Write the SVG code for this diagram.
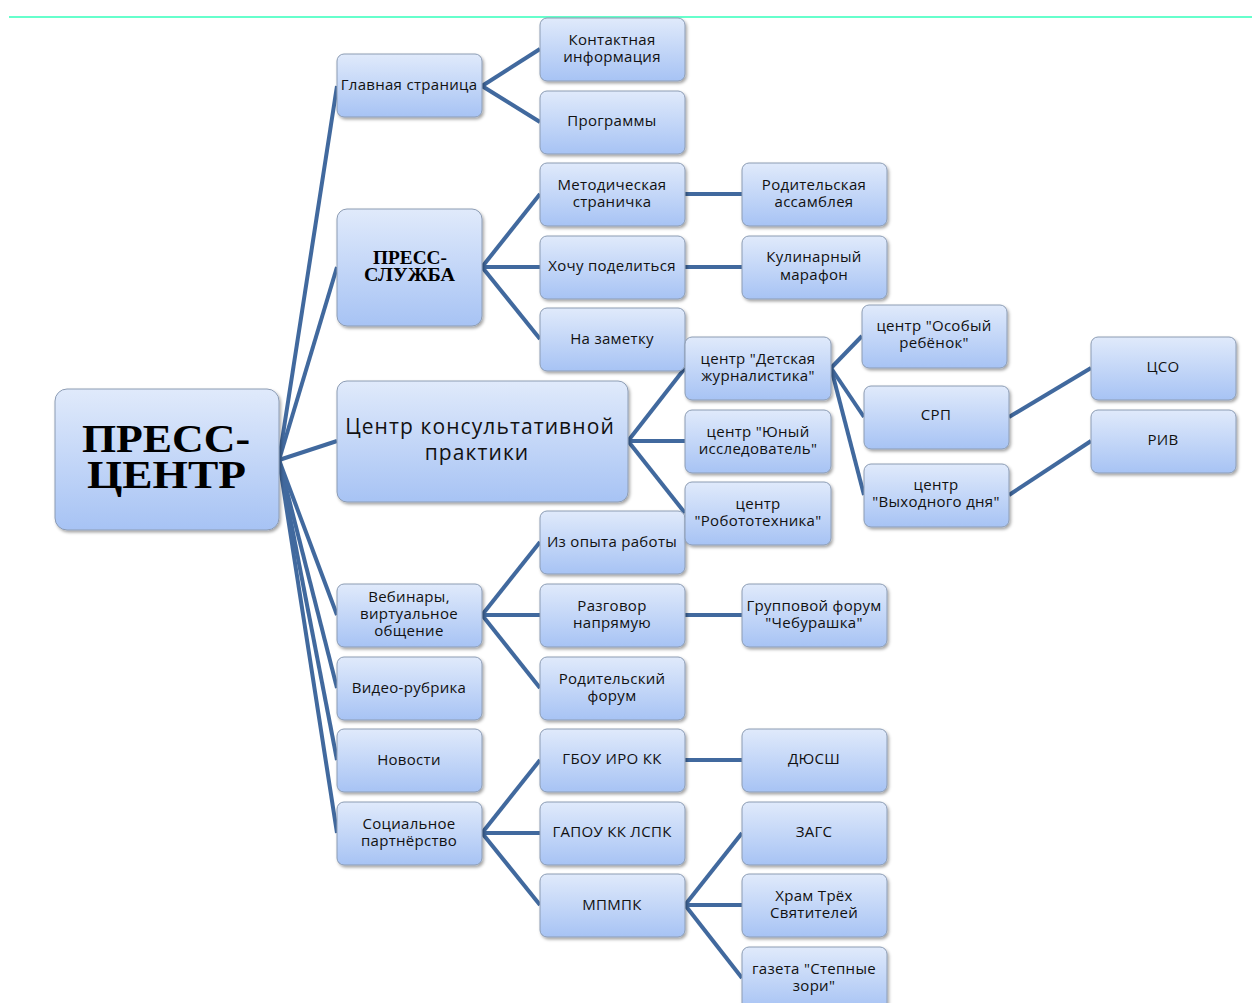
<svg xmlns="http://www.w3.org/2000/svg" width="1252" height="1003" viewBox="0 0 1252 1003">
<defs>
<linearGradient id="g" x1="0" y1="0" x2="0" y2="1">
<stop offset="0" stop-color="#e0eafb"/>
<stop offset="1" stop-color="#a7c3f4"/>
</linearGradient>
<filter id="sh" x="-10%" y="-10%" width="130%" height="140%">
<feDropShadow dx="1.5" dy="2" stdDeviation="1.5" flood-color="#000" flood-opacity="0.35"/>
</filter>
<style>
.b{fill:url(#g);stroke:#8c9cb4;stroke-width:1;filter:url(#sh)}
.t{font-family:"Open Sans","Noto Sans",sans-serif;font-size:15px;letter-spacing:0.3px;fill:#111;text-anchor:middle}
.s{font-family:"Liberation Serif",serif;font-weight:bold;fill:#000;text-anchor:middle}
.c line{stroke:#41699e;stroke-width:4;stroke-linecap:butt}
</style>
</defs>
<rect width="1252" height="1003" fill="#fff"/>
<line x1="9" y1="17" x2="1252" y2="17" stroke="#66ffcc" stroke-width="2"/>
<g class="c" id="connectors">
<line x1="279" y1="460" x2="337" y2="86"/>
<line x1="279" y1="460" x2="337" y2="267"/>
<line x1="279" y1="460" x2="337" y2="441"/>
<line x1="279" y1="460" x2="337" y2="615"/>
<line x1="279" y1="460" x2="337" y2="688"/>
<line x1="279" y1="460" x2="337" y2="760"/>
<line x1="279" y1="460" x2="337" y2="833"/>
<line x1="482" y1="86" x2="540" y2="49"/>
<line x1="482" y1="86" x2="540" y2="122"/>
<line x1="482" y1="267" x2="540" y2="194"/>
<line x1="482" y1="267" x2="540" y2="267"/>
<line x1="482" y1="267" x2="540" y2="339"/>
<line x1="685" y1="194" x2="742" y2="194"/>
<line x1="685" y1="267" x2="742" y2="267"/>
<line x1="628" y1="441" x2="685" y2="368"/>
<line x1="628" y1="441" x2="685" y2="441"/>
<line x1="628" y1="441" x2="685" y2="513"/>
<line x1="831" y1="368" x2="862" y2="336"/>
<line x1="831" y1="368" x2="864" y2="417"/>
<line x1="831" y1="368" x2="864" y2="495"/>
<line x1="1009" y1="417" x2="1091" y2="368"/>
<line x1="1009" y1="495" x2="1091" y2="441"/>
<line x1="482" y1="615" x2="540" y2="542"/>
<line x1="482" y1="615" x2="540" y2="615"/>
<line x1="482" y1="615" x2="540" y2="688"/>
<line x1="685" y1="615" x2="742" y2="615"/>
<line x1="482" y1="833" x2="540" y2="760"/>
<line x1="482" y1="833" x2="540" y2="833"/>
<line x1="482" y1="833" x2="540" y2="905"/>
<line x1="685" y1="760" x2="742" y2="760"/>
<line x1="685" y1="905" x2="742" y2="833"/>
<line x1="685" y1="905" x2="742" y2="905"/>
<line x1="685" y1="905" x2="742" y2="978"/>
</g>
<g id="n-press-center"><rect class="b" x="55" y="389" width="224" height="141" rx="12"/><text class="s" font-size="40"><tspan x="166" y="452" textLength="168" lengthAdjust="spacingAndGlyphs">ПРЕСС-</tspan><tspan x="166.5" y="488" textLength="159" lengthAdjust="spacingAndGlyphs">ЦЕНТР</tspan></text></g>
<g id="n-glavnaya"><rect class="b" x="337" y="54" width="145" height="63" rx="7"/><text class="t" x="409" y="90">Главная страница</text></g>
<g id="n-press-sluzhba"><rect class="b" x="337" y="209" width="145" height="117" rx="10"/><text class="s" font-size="18"><tspan x="410" y="264" textLength="74" lengthAdjust="spacingAndGlyphs">ПРЕСС-</tspan><tspan x="409.5" y="281" textLength="91" lengthAdjust="spacingAndGlyphs">СЛУЖБА</tspan></text></g>
<g id="n-centr-konsult"><rect class="b" x="337" y="381" width="291" height="121" rx="10"/><text class="t" style="font-size:21px;letter-spacing:1.1px"><tspan x="480" y="434">Центр консультативной</tspan><tspan x="477" y="460">практики</tspan></text></g>
<g id="n-vebinary"><rect class="b" x="337" y="584" width="145" height="63" rx="7"/><text class="t"><tspan x="409" y="602">Вебинары,</tspan><tspan x="409" y="619">виртуальное</tspan><tspan x="409" y="636">общение</tspan></text></g>
<g id="n-video"><rect class="b" x="337" y="657" width="145" height="63" rx="7"/><text class="t" x="409" y="693">Видео-рубрика</text></g>
<g id="n-novosti"><rect class="b" x="337" y="729" width="145" height="63" rx="7"/><text class="t" x="409" y="765">Новости</text></g>
<g id="n-social"><rect class="b" x="337" y="802" width="145" height="63" rx="7"/><text class="t"><tspan x="409" y="829">Социальное</tspan><tspan x="409" y="846">партнёрство</tspan></text></g>
<g id="n-kontakt"><rect class="b" x="540" y="18" width="145" height="63" rx="7"/><text class="t"><tspan x="612" y="45">Контактная</tspan><tspan x="612" y="62">информация</tspan></text></g>
<g id="n-programmy"><rect class="b" x="540" y="91" width="145" height="63" rx="7"/><text class="t" x="612" y="126">Программы</text></g>
<g id="n-metod"><rect class="b" x="540" y="163" width="145" height="63" rx="7"/><text class="t"><tspan x="612" y="190">Методическая</tspan><tspan x="612" y="207">страничка</tspan></text></g>
<g id="n-hochu"><rect class="b" x="540" y="236" width="145" height="63" rx="7"/><text class="t" x="612" y="271">Хочу поделиться</text></g>
<g id="n-zametku"><rect class="b" x="540" y="308" width="145" height="63" rx="7"/><text class="t" x="612" y="344">На заметку</text></g>
<g id="n-opyt"><rect class="b" x="540" y="511" width="145" height="63" rx="7"/><text class="t" x="612" y="547">Из опыта работы</text></g>
<g id="n-razgovor"><rect class="b" x="540" y="584" width="145" height="63" rx="7"/><text class="t"><tspan x="612" y="611">Разговор</tspan><tspan x="612" y="628">напрямую</tspan></text></g>
<g id="n-rod-forum"><rect class="b" x="540" y="657" width="145" height="63" rx="7"/><text class="t"><tspan x="612" y="684">Родительский</tspan><tspan x="612" y="701">форум</tspan></text></g>
<g id="n-gbou"><rect class="b" x="540" y="729" width="145" height="63" rx="7"/><text class="t" x="612" y="764">ГБОУ ИРО КК</text></g>
<g id="n-gapou"><rect class="b" x="540" y="802" width="145" height="63" rx="7"/><text class="t" x="612" y="837">ГАПОУ КК ЛСПК</text></g>
<g id="n-mpmpk"><rect class="b" x="540" y="874" width="145" height="63" rx="7"/><text class="t" x="612" y="910">МПМПК</text></g>
<g id="n-detskaya"><rect class="b" x="685" y="337" width="146" height="63" rx="7"/><text class="t"><tspan x="758" y="364">центр "Детская</tspan><tspan x="758" y="381">журналистика"</tspan></text></g>
<g id="n-yuny"><rect class="b" x="685" y="410" width="146" height="63" rx="7"/><text class="t"><tspan x="758" y="437">центр "Юный</tspan><tspan x="758" y="454">исследователь"</tspan></text></g>
<g id="n-robot"><rect class="b" x="685" y="482" width="146" height="63" rx="7"/><text class="t"><tspan x="758" y="509">центр</tspan><tspan x="758" y="526">"Робототехника"</tspan></text></g>
<g id="n-rod-assambleya"><rect class="b" x="742" y="163" width="145" height="63" rx="7"/><text class="t"><tspan x="814" y="190">Родительская</tspan><tspan x="814" y="207">ассамблея</tspan></text></g>
<g id="n-kulinar"><rect class="b" x="742" y="236" width="145" height="63" rx="7"/><text class="t"><tspan x="814" y="262">Кулинарный</tspan><tspan x="814" y="280">марафон</tspan></text></g>
<g id="n-cheburashka"><rect class="b" x="742" y="584" width="145" height="63" rx="7"/><text class="t"><tspan x="814" y="611">Групповой форум</tspan><tspan x="814" y="628">"Чебурашка"</tspan></text></g>
<g id="n-dyussh"><rect class="b" x="742" y="729" width="145" height="63" rx="7"/><text class="t" x="814" y="764">ДЮСШ</text></g>
<g id="n-zags"><rect class="b" x="742" y="802" width="145" height="63" rx="7"/><text class="t" x="814" y="837">ЗАГС</text></g>
<g id="n-hram"><rect class="b" x="742" y="874" width="145" height="63" rx="7"/><text class="t"><tspan x="814" y="901">Храм Трёх</tspan><tspan x="814" y="918">Святителей</tspan></text></g>
<g id="n-gazeta"><rect class="b" x="742" y="947" width="145" height="63" rx="7"/><text class="t"><tspan x="814" y="974">газета "Степные</tspan><tspan x="814" y="991">зори"</tspan></text></g>
<g id="n-osoby"><rect class="b" x="862" y="305" width="145" height="63" rx="7"/><text class="t"><tspan x="934" y="331">центр "Особый</tspan><tspan x="934" y="348">ребёнок"</tspan></text></g>
<g id="n-srp"><rect class="b" x="864" y="386" width="145" height="63" rx="7"/><text class="t" x="936" y="420">СРП</text></g>
<g id="n-vyhodnogo"><rect class="b" x="864" y="464" width="145" height="63" rx="7"/><text class="t"><tspan x="936" y="490">центр</tspan><tspan x="936" y="507">"Выходного дня"</tspan></text></g>
<g id="n-cso"><rect class="b" x="1091" y="337" width="145" height="63" rx="7"/><text class="t" x="1163" y="372">ЦСО</text></g>
<g id="n-riv"><rect class="b" x="1091" y="410" width="145" height="63" rx="7"/><text class="t" x="1163" y="445">РИВ</text></g>
</svg>
